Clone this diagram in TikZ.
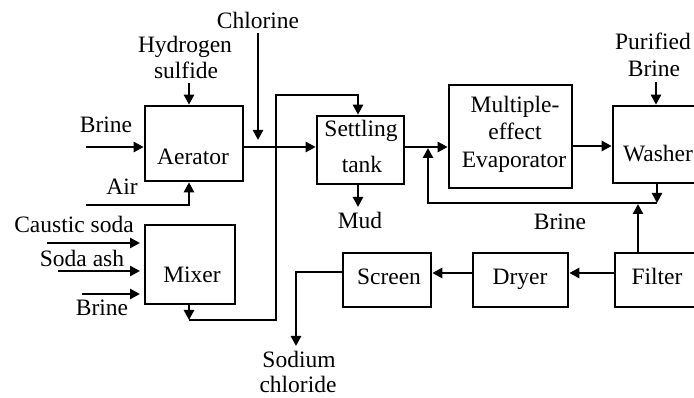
\documentclass[tikz,border=0pt]{standalone}
\usepackage{fontspec}
\setmainfont{Liberation Serif}
\usetikzlibrary{arrows.meta}
\begin{document}
\begin{tikzpicture}[x=1pt,y=-1pt,
  box/.style={draw, line width=2.6pt, inner sep=0pt, rectangle},
  txt/.style={inner sep=0pt, anchor=base, font=\fontsize{23.5}{28}\selectfont},
  flow/.style={line width=2.6pt},
  arr/.style={flow, -{Triangle[length=10pt,width=10pt]}}]
\useasboundingbox (0,0) rectangle (694,398);
\clip (0,0) rectangle (694,398);
% boxes
\node[box, minimum width=98pt, minimum height=75pt] (aer) at (194,143.5) {};
\node[box, minimum width=90pt, minimum height=79pt] (mix) at (190,264.5) {};
\node[box, minimum width=87pt, minimum height=68pt] (set) at (360.5,150) {};
\node[box, minimum width=123pt, minimum height=103pt] (evap) at (510.5,136.5) {};
\node[box, minimum width=90pt, minimum height=77pt] (wash) at (658,144.5) {};
\node[box, minimum width=85pt, minimum height=54pt] (filt) at (657.5,280) {};
\node[box, minimum width=95pt, minimum height=54pt] (dry) at (520.5,280) {};
\node[box, minimum width=88pt, minimum height=54pt] (scr) at (387,280) {};
% texts
\node[txt] (tcl) at (258,29) {Chlorine};
\node[txt] (th1) at (185,53) {Hydrogen};
\node[txt] (th2) at (186,79) {sulfide};
\node[txt] (tbr1) at (106,133) {Brine};
\node[txt] (taer) at (193,165) {Aerator};
\node[txt] (tair) at (122,195) {Air};
\node[txt] (tcs) at (74,233) {Caustic soda};
\node[txt] (tsa) at (82,267) {Soda ash};
\node[txt] (tbr2) at (102,316) {Brine};
\node[txt] (tmix) at (192,283) {Mixer};
\node[txt] (tset1) at (361,137) {Settling};
\node[txt] (tset2) at (362,173) {tank};
\node[txt] (tmud) at (360,229) {Mud};
\node[txt] (tev1) at (515,113) {Multiple-};
\node[txt] (tev2) at (515,140) {effect};
\node[txt] (tev3) at (514,168) {Evaporator};
\node[txt] (tpb1) at (653,50) {Purified};
\node[txt] (tpb2) at (654,77) {Brine};
\node[txt] (twash) at (658,162) {Washer};
\node[txt] (tbr3) at (560,230) {Brine};
\node[txt] (tscr) at (389,285) {Screen};
\node[txt] (tdry) at (520,285) {Dryer};
\node[txt] (tfil) at (657,285) {Filter};
\node[txt] (tna1) at (299,367) {Sodium};
\node[txt] (tna2) at (298,392) {chloride};
% connectors
\coordinate (hsA) at (189,83);
\draw[arr] (hsA) -- (hsA |- aer.north);
\coordinate (clA) at (258,33); \coordinate (clB) at (258,140);
\draw[arr] (clA) -- (clB);
\coordinate (brA) at (86,147);
\draw[arr] (brA) -- (brA -| aer.west);
\coordinate (airA) at (86,205); \coordinate (airB) at (189,205);
\draw[arr] (airA) -- (airB) -- (airB |- aer.south);
\coordinate (j1) at (243,147);
\draw[arr] (j1 -| aer.east) -- (j1 -| set.west);
\coordinate (mxA) at (189,320);
\draw[arr] (mxA |- mix.south) -- (mxA);
\coordinate (lpA) at (276,320); \coordinate (lpB) at (276,95); \coordinate (lpC) at (358,95);
\draw[arr] (mxA) -- (lpA) -- (lpB) -- (lpC) -- (lpC |- set.north);
\coordinate (j2) at (404,147);
\draw[arr] (j2 -| set.east) -- (j2 -| evap.west);
\coordinate (mud) at (358,207);
\draw[arr] (mud |- set.south) -- (mud);
\coordinate (j3) at (572,146);
\draw[arr] (j3 -| evap.east) -- (j3 -| wash.west);
\coordinate (pb) at (656,82);
\draw[arr] (pb) -- (pb |- wash.north);
\coordinate (wd) at (657,203);
\draw[arr] (wd |- wash.south) -- (wd);
\coordinate (rb) at (428,203); \coordinate (rbT) at (428,148);
\draw[arr] (wd) -- (rb) -- (rbT);
\coordinate (fu) at (638,204);
\draw[arr] (fu |- filt.north) -- (fu);
\coordinate (j4) at (600,273);
\draw[arr] (j4 -| filt.west) -- (j4 -| dry.east);
\draw[arr] (j4 -| dry.west) -- (j4 -| scr.east);
\coordinate (sc) at (296,272); \coordinate (scB) at (296,346);
\draw[arr] (sc -| scr.west) -- (sc) -- (scB);
\coordinate (csA) at (47,243); \coordinate (csB) at (140,243);
\draw[arr] (csA) -- (csB);
\coordinate (saA) at (58,271); \coordinate (saB) at (140,271);
\draw[arr] (saA) -- (saB);
\coordinate (bmA) at (82,294); \coordinate (bmB) at (140,294);
\draw[arr] (bmA) -- (bmB);
\end{tikzpicture}
\end{document}
